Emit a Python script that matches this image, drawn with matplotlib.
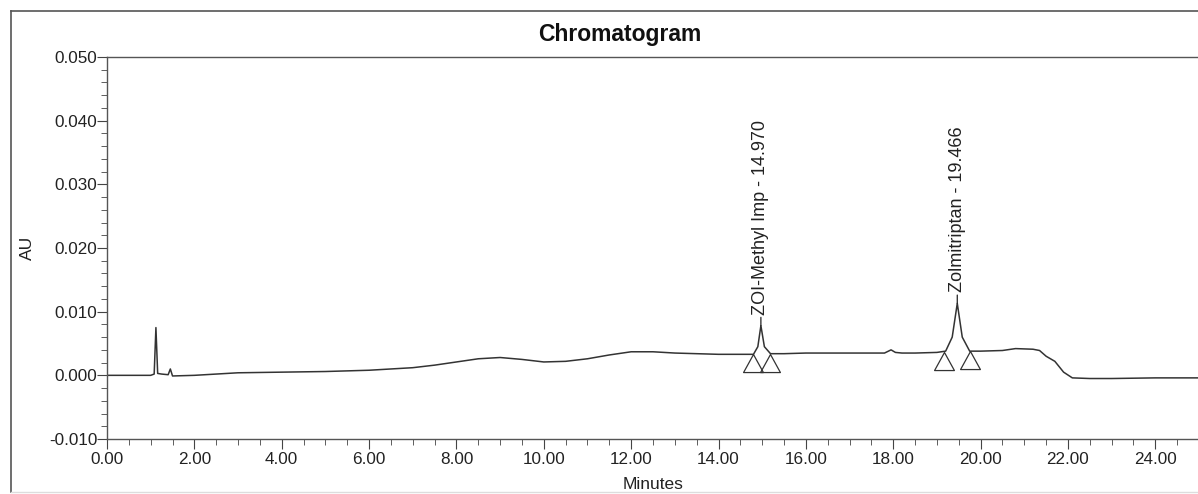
import numpy as np
import matplotlib
matplotlib.use("Agg")
import matplotlib.pyplot as plt
from matplotlib.path import Path
from matplotlib.lines import Line2D
from matplotlib.ticker import MultipleLocator, FormatStrFormatter

plt.rcParams['font.family'] = ['Liberation Sans', 'DejaVu Sans']

# ---- trace (minutes, AU) ----
time = [0.0, 0.5, 1.0, 1.08, 1.12, 1.16, 1.25, 1.4, 1.45, 1.5, 2.0, 3.0, 4.0,
        5.0, 6.0, 7.0, 7.5, 8.0, 8.5, 9.0, 9.5, 10.0, 10.5, 11.0, 11.5, 12.0,
        12.5, 13.0, 13.5, 14.0, 14.5, 14.8, 14.9, 14.97, 15.05, 15.19, 15.5,
        16.0, 17.0, 17.8, 17.95, 18.05, 18.2, 18.5, 19.0, 19.2, 19.35, 19.466,
        19.58, 19.75, 20.0, 20.5, 20.8, 21.2, 21.35, 21.5, 21.7, 21.9, 22.1,
        22.5, 23.0, 24.0, 25.0]
au = [0.0000, 0.0000, 0.0000, 0.0002, 0.0075, 0.0003, 0.0002, 0.0001, 0.0010,
      -0.0001, 0.0000, 0.0004, 0.0005, 0.0006, 0.0008, 0.0012, 0.0016, 0.0021,
      0.0026, 0.0028, 0.0025, 0.0021, 0.0022, 0.0026, 0.0032, 0.0037, 0.0037,
      0.0035, 0.0034, 0.0033, 0.0033, 0.0033, 0.0045, 0.0078, 0.0045, 0.0034,
      0.0034, 0.0035, 0.0035, 0.0035, 0.0040, 0.0036, 0.0035, 0.0035, 0.0036,
      0.0038, 0.0060, 0.0113, 0.0060, 0.0038, 0.0038, 0.0039, 0.0042, 0.0041,
      0.0039, 0.0030, 0.0022, 0.0005, -0.0004, -0.0005, -0.0005, -0.0004,
      -0.0004]

# integration marks (peak start / end) and peak labels
mark_t = [14.80, 15.19, 19.16, 19.75]
mark_au = [0.0033, 0.0034, 0.0037, 0.0038]
peak_t = [14.970, 19.466]
peak_au = [0.0078, 0.0113]
peak_names = ["ZOI-Methyl Imp - 14.970", "Zolmitriptan - 19.466"]

fig = plt.figure(figsize=(11.98, 4.94), dpi=100)
ax = fig.add_axes([107 / 1198, 55 / 494, 1092 / 1198, 382 / 494])

ax.plot(time, au, color="#333333", lw=1.1)

# open triangles, apex sitting on the baseline
tri = Path([(0, 0), (-0.55, -1), (0.55, -1), (0, 0)],
           [Path.MOVETO, Path.LINETO, Path.LINETO, Path.CLOSEPOLY])
ax.plot(mark_t, mark_au, ls="none", marker=tri, ms=26, mfc="none",
        mec="#333333", mew=0.9)

for t, y, name in zip(peak_t, peak_au, peak_names):
    ax.annotate(name, xy=(t, y), xytext=(0, 8), textcoords="offset points",
                rotation=90, ha="center", va="bottom", fontsize=13,
                color="#222222",
                arrowprops=dict(arrowstyle="-", color="#222222", lw=0.9,
                                shrinkA=0, shrinkB=0))

ax.set_xlim(0, 25)
ax.set_ylim(-0.010, 0.050)
ax.xaxis.set_major_locator(MultipleLocator(2))
ax.xaxis.set_minor_locator(MultipleLocator(0.5))
ax.yaxis.set_major_locator(MultipleLocator(0.01))
ax.yaxis.set_minor_locator(MultipleLocator(0.002))
ax.xaxis.set_major_formatter(FormatStrFormatter("%.2f"))
ax.yaxis.set_major_formatter(FormatStrFormatter("%.3f"))
ax.tick_params(which="both", direction="out", color="#444444",
               labelsize=12.3, labelcolor="#222222")
ax.tick_params(axis="y", pad=0)
ax.tick_params(axis="x", pad=2.5)
ax.tick_params(which="major", length=7)
ax.tick_params(which="minor", length=4)
for s in ax.spines.values():
    s.set_color("#555555")
    s.set_linewidth(1.0)

ax.set_xlabel("Minutes", fontsize=12.5, labelpad=7, color="#222222")
ax.set_ylabel("AU", fontsize=12.5, labelpad=10, color="#222222")
fig.text(620 / 1198, 1 - 35 / 494, "Chromatogram", fontsize=16.5,
         fontweight="bold", ha="center", va="center", color="#111111")

# outer frame of the report box
fig.add_artist(Line2D([11 / 1198, 11 / 1198], [2 / 494, 1 - 11 / 494],
                      transform=fig.transFigure, color="#555555", lw=1.2))
fig.add_artist(Line2D([11 / 1198, 1], [1 - 11 / 494, 1 - 11 / 494],
                      transform=fig.transFigure, color="#555555", lw=1.2))
fig.add_artist(Line2D([11 / 1198, 1], [2 / 494, 2 / 494],
                      transform=fig.transFigure, color="#dddddd", lw=1.0))

fig.savefig("out.png", dpi=100)
